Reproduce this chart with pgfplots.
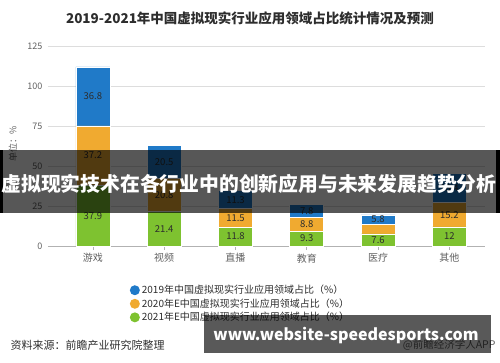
\documentclass[border=0pt]{standalone}
\usepackage{pgfplots}
\pgfplotsset{compat=1.18}
\usepackage{fontspec}
\setmainfont{Noto Sans CJK SC}
\definecolor{cblue}{RGB}{32,122,200}
\definecolor{corange}{RGB}{240,170,48}
\definecolor{cgreen}{RGB}{126,194,48}
\definecolor{ctext}{RGB}{45,45,45}
\definecolor{cgrid}{RGB}{221,221,221}
\definecolor{ctick}{RGB}{96,96,96}
\pgfplotsset{
  circ legend/.style={legend image code/.code={\fill[##1,draw=none] (4pt,0pt) circle (5pt);}},
}
\begin{document}
\begin{tikzpicture}[x=1pt,y=1pt]
\useasboundingbox (0,0) rectangle (500,362);
\node[font=\bfseries\fontsize{13.5}{14}\selectfont, text=ctext] at (250,343.5) {2019-2021年中国虚拟现实行业应用领域占比统计情况及预测};
\node[anchor=west, font=\fontsize{11}{11}\selectfont, text=ctext] at (7,17) {资料来源：前瞻产业研究院整理};
\node[anchor=east, font=\fontsize{10.5}{11}\selectfont, text=ctick] at (499,17) {@前瞻经济学人APP};
\begin{axis}[
  at={(48pt,116pt)}, anchor=south west,
  scale only axis, width=437pt, height=200pt,
  ybar stacked, bar width=34pt,
  xmin=-0.63, xmax=5.5, ymin=0, ymax=125,
  ytick={0,25,50,75,100,125},
  xtick={0,1,2,3,4,5},
  xticklabels={游戏,视频,直播,教育,医疗,其他},
  ymajorgrids, grid style={cgrid, line width=0.7pt},
  axis x line=bottom, axis y line=left,
  x axis line style={-, draw=gray!60, line width=0.7pt},
  y axis line style={draw=none},
  ytick style={draw=none},
  xtick style={draw=gray!60, line width=0.6pt},
  xtick align=outside, major tick length=4pt,
  /pgf/number format/assume math mode=true,
  yticklabel style={font=\fontsize{9}{9}\selectfont, text=ctick},
  xticklabel style={font=\fontsize{10}{10}\selectfont, text=ctick},
  ylabel={单位：\%},
  ylabel style={at={(axis description cs:-0.08,0.51)}, anchor=center, font=\fontsize{9}{9}\selectfont, text=ctick},
  legend style={at={(0.180,-0.175)}, anchor=north west, draw=none, fill=none,
    font=\fontsize{10}{10}\selectfont, text=ctext, row sep=-0.5pt,
    /tikz/every even column/.style={column sep=4.5pt}},
  legend cell align=left,
  reverse legend,
]
\addplot[fill=cgreen, draw=white, line width=0.6pt, circ legend] coordinates {(0,37.9) (1,21.4) (2,11.8) (3,9.3) (4,7.6) (5,12)};
\addplot[fill=corange, draw=white, line width=0.6pt, circ legend] coordinates {(0,37.2) (1,20.8) (2,11.5) (3,8.8) (4,6.0) (5,15.2)};
\addplot[fill=cblue, draw=white, line width=0.6pt, circ legend] coordinates {(0,36.8) (1,20.5) (2,11.3) (3,7.8) (4,5.8) (5,18.4)};
\legend{2021年E中国虚拟现实行业应用领域占比（\%）,2020年E中国虚拟现实行业应用领域占比（\%）,2019年中国虚拟现实行业应用领域占比（\%）}
\end{axis}
\begin{axis}[
  at={(48pt,116pt)}, anchor=south west,
  scale only axis, width=437pt, height=200pt,
  xmin=-0.63, xmax=5.5, ymin=0, ymax=125, hide axis,
]
\addplot[draw=none, mark=none, nodes near coords, point meta=explicit symbolic,
  every node near coord/.append style={anchor=center, font=\fontsize{9.5}{10}\selectfont, text=ctext}]
  coordinates {
  (0,18.95) [37.9] (0,56.5) [37.2] (0,93.5) [36.8]
  (1,10.7) [21.4] (1,31.8) [20.8] (1,52.45) [20.5]
  (2,5.9) [11.8] (2,17.55) [11.5] (2,28.95) [11.3]
  (3,4.65) [9.3] (3,13.7) [8.8] (3,22.0) [7.8]
  (4,3.8) [7.6] (4,16.5) [5.8]
  (5,6.0) [12] (5,19.6) [15.2] (5,36.4) [18.4]
  };
\end{axis}
\fill[black, opacity=0.66] (0,149) rectangle (500,212);
\fill[black] (0,149) rectangle (3,212);
\fill[black] (496,149) rectangle (500,212);
\node[font=\bfseries\fontsize{19.8}{20}\selectfont, text=white] at (249,178) {虚拟现实技术在各行业中的创新应用与未来发展趋势分析};
\fill[black, opacity=0.65] (204,9) rectangle (491,47);
\node[font=\bfseries\fontsize{16}{16}\selectfont, text=white] at (346,26) {www.website-speedesports.com};
\end{tikzpicture}
\end{document}
